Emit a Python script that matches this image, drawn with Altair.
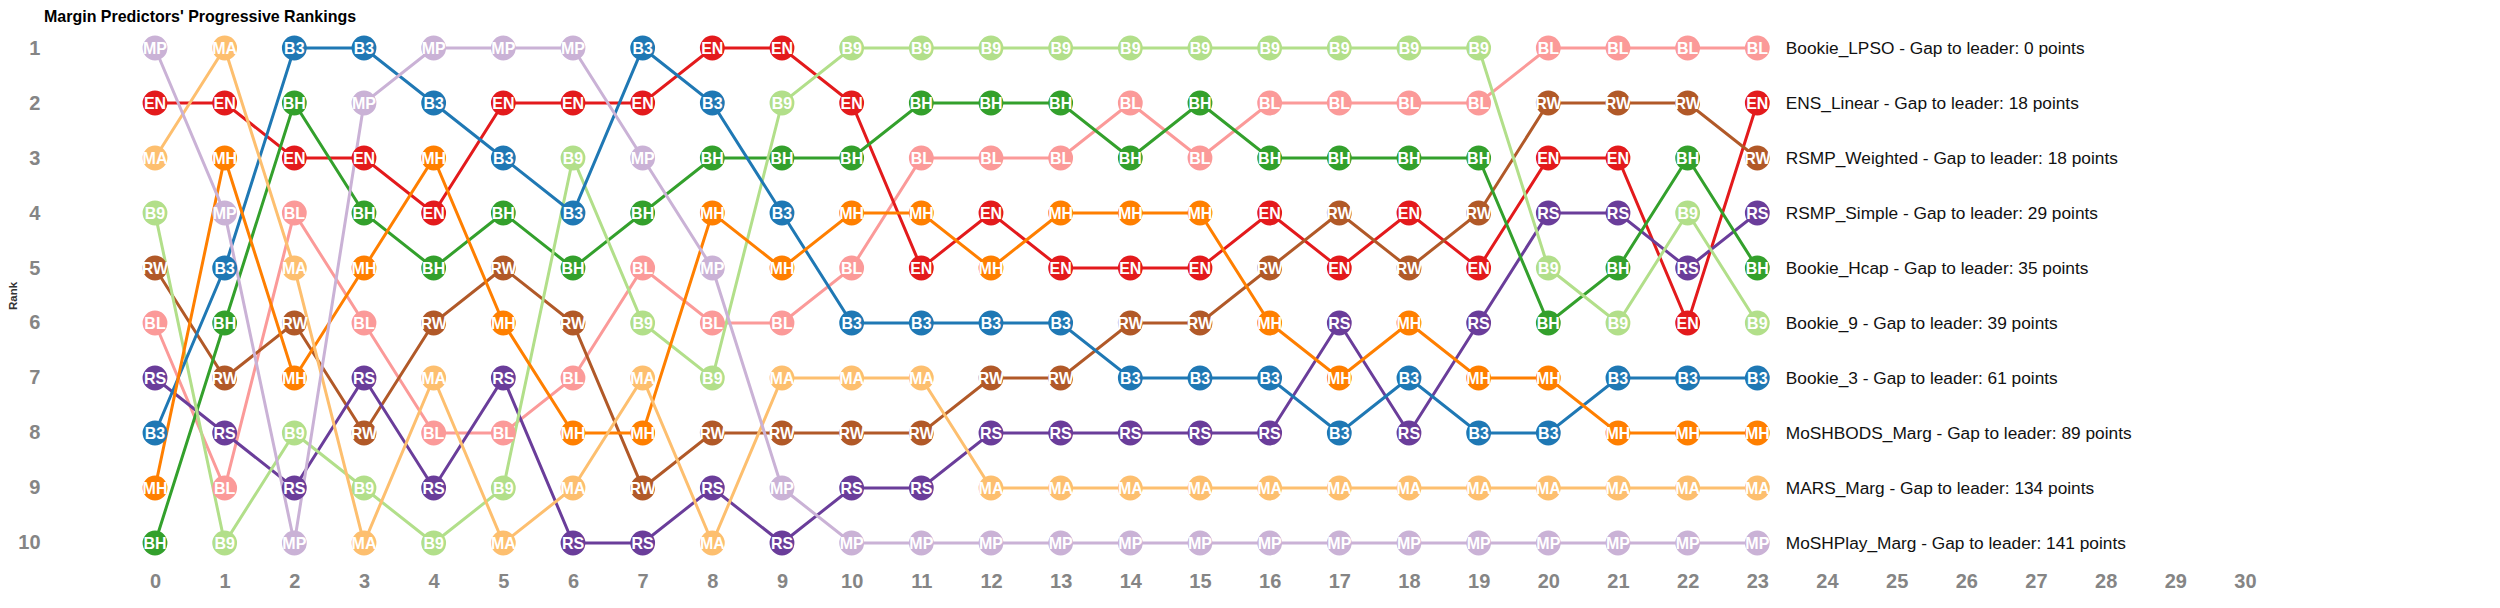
import altair as alt
import pandas as pd

# Predictors (full name, short code, colour)
predictors = ["Bookie_LPSO", "ENS_Linear", "RSMP_Weighted", "RSMP_Simple", "Bookie_Hcap",
              "Bookie_9", "Bookie_3", "MoSHBODS_Marg", "MARS_Marg", "MoSHPlay_Marg"]
codes = ["BL", "EN", "RW", "RS", "BH", "B9", "B3", "MH", "MA", "MP"]
colors = ["#fb9a99", "#e31a1c", "#b15928", "#6a3d9a", "#33a02c",
          "#b2df8a", "#1f78b4", "#ff7f00", "#fdbf6f", "#cab2d6"]
gap_to_leader = [0, 18, 18, 29, 35, 39, 61, 89, 134, 141]

rounds = list(range(0, 24))

# Rank of each predictor after each round (round 0 .. 23)
rank_BL = [6, 9, 4, 6, 8, 8, 7, 5, 6, 6, 5, 3, 3, 3, 2, 3, 2, 2, 2, 2, 1, 1, 1, 1]
rank_EN = [2, 2, 3, 3, 4, 2, 2, 2, 1, 1, 2, 5, 4, 5, 5, 5, 4, 5, 4, 5, 3, 3, 6, 2]
rank_RW = [5, 7, 6, 8, 6, 5, 6, 9, 8, 8, 8, 8, 7, 7, 6, 6, 5, 4, 5, 4, 2, 2, 2, 3]
rank_RS = [7, 8, 9, 7, 9, 7, 10, 10, 9, 10, 9, 9, 8, 8, 8, 8, 8, 6, 8, 6, 4, 4, 5, 4]
rank_BH = [10, 6, 2, 4, 5, 4, 5, 4, 3, 3, 3, 2, 2, 2, 3, 2, 3, 3, 3, 3, 6, 5, 3, 5]
rank_B9 = [4, 10, 8, 9, 10, 9, 3, 6, 7, 2, 1, 1, 1, 1, 1, 1, 1, 1, 1, 1, 5, 6, 4, 6]
rank_B3 = [8, 5, 1, 1, 2, 3, 4, 1, 2, 4, 6, 6, 6, 6, 7, 7, 7, 8, 7, 8, 8, 7, 7, 7]
rank_MH = [9, 3, 7, 5, 3, 6, 8, 8, 4, 5, 4, 4, 5, 4, 4, 4, 6, 7, 6, 7, 7, 8, 8, 8]
rank_MA = [3, 1, 5, 10, 7, 10, 9, 7, 10, 7, 7, 7, 9, 9, 9, 9, 9, 9, 9, 9, 9, 9, 9, 9]
rank_MP = [1, 4, 10, 2, 1, 1, 1, 3, 5, 9, 10, 10, 10, 10, 10, 10, 10, 10, 10, 10, 10, 10, 10, 10]

all_ranks = [rank_BL, rank_EN, rank_RW, rank_RS, rank_BH,
             rank_B9, rank_B3, rank_MH, rank_MA, rank_MP]

x_ticks = list(range(0, 31))
y_ticks = list(range(1, 11))

rows = []
for name, code, gap, ranks in zip(predictors, codes, gap_to_leader, all_ranks):
    for r, rk in zip(rounds, ranks):
        rows.append({"Predictor": name, "Code": code, "Round": r, "Rank": rk,
                     "Label": f"{name} - Gap to leader: {gap} points"})
df = pd.DataFrame(rows)
last = df[df["Round"] == rounds[-1]]

FONT = "Liberation Sans"

x_enc = alt.X("Round:Q",
              scale=alt.Scale(domain=[-1.5, 30.5], nice=False, zero=False),
              axis=alt.Axis(values=x_ticks, title=None, grid=False, domain=False, ticks=False,
                            labelFont=FONT, labelFontSize=20, labelFontWeight="bold",
                            labelColor="#858585", labelPadding=1, format="d"))
y_enc = alt.Y("Rank:Q",
              scale=alt.Scale(domain=[0.5, 10.5], reverse=True, nice=False, zero=False),
              axis=alt.Axis(values=y_ticks, title="Rank", grid=False, domain=False, ticks=False,
                            labelFont=FONT, labelFontSize=20, labelFontWeight="bold",
                            labelColor="#858585", labelPadding=10.5, format="d",
                            titleFont=FONT, titleFontSize=11.5, titleFontWeight="bold",
                            titleColor="#333333", titleAngle=270, titleX=-37, titleY=275,
                            titleAlign="center", titleBaseline="middle"))
color_enc = alt.Color("Predictor:N", scale=alt.Scale(domain=predictors, range=colors), legend=None)

base = alt.Chart(df)

lines = base.mark_line(strokeWidth=3).encode(x=x_enc, y=y_enc, color=color_enc,
                                              detail="Predictor:N", order="Round:Q")
dots = base.mark_circle(size=616, opacity=1).encode(x="Round:Q", y="Rank:Q", color=color_enc)
dot_text = base.mark_text(font=FONT, fontSize=16, fontWeight="bold", color="white",
                          align="center", baseline="middle", dy=1).encode(
    x="Round:Q", y="Rank:Q", text="Code:N")
end_text = alt.Chart(last).mark_text(font=FONT, fontSize=17.3, color="#111111",
                                     align="left", baseline="middle", dx=28.5, dy=1).encode(
    x="Round:Q", y="Rank:Q", text="Label:N")

chart = alt.layer(lines, dots, dot_text, end_text).properties(
    width=2229.3,
    height=550,
    padding={"left": 42.5, "top": 12.5, "right": 10, "bottom": 20},
    autosize=alt.AutoSizeParams(type="none"),
    title=alt.TitleParams("Margin Predictors' Progressive Rankings", anchor="start", frame="group",
                          dx=-6.5, offset=-20, baseline="bottom", font=FONT, fontSize=16,
                          fontWeight="bold", color="#000000"),
).configure_view(stroke=None)

chart.save("out.html", embed_options={"renderer": "svg", "actions": False})
